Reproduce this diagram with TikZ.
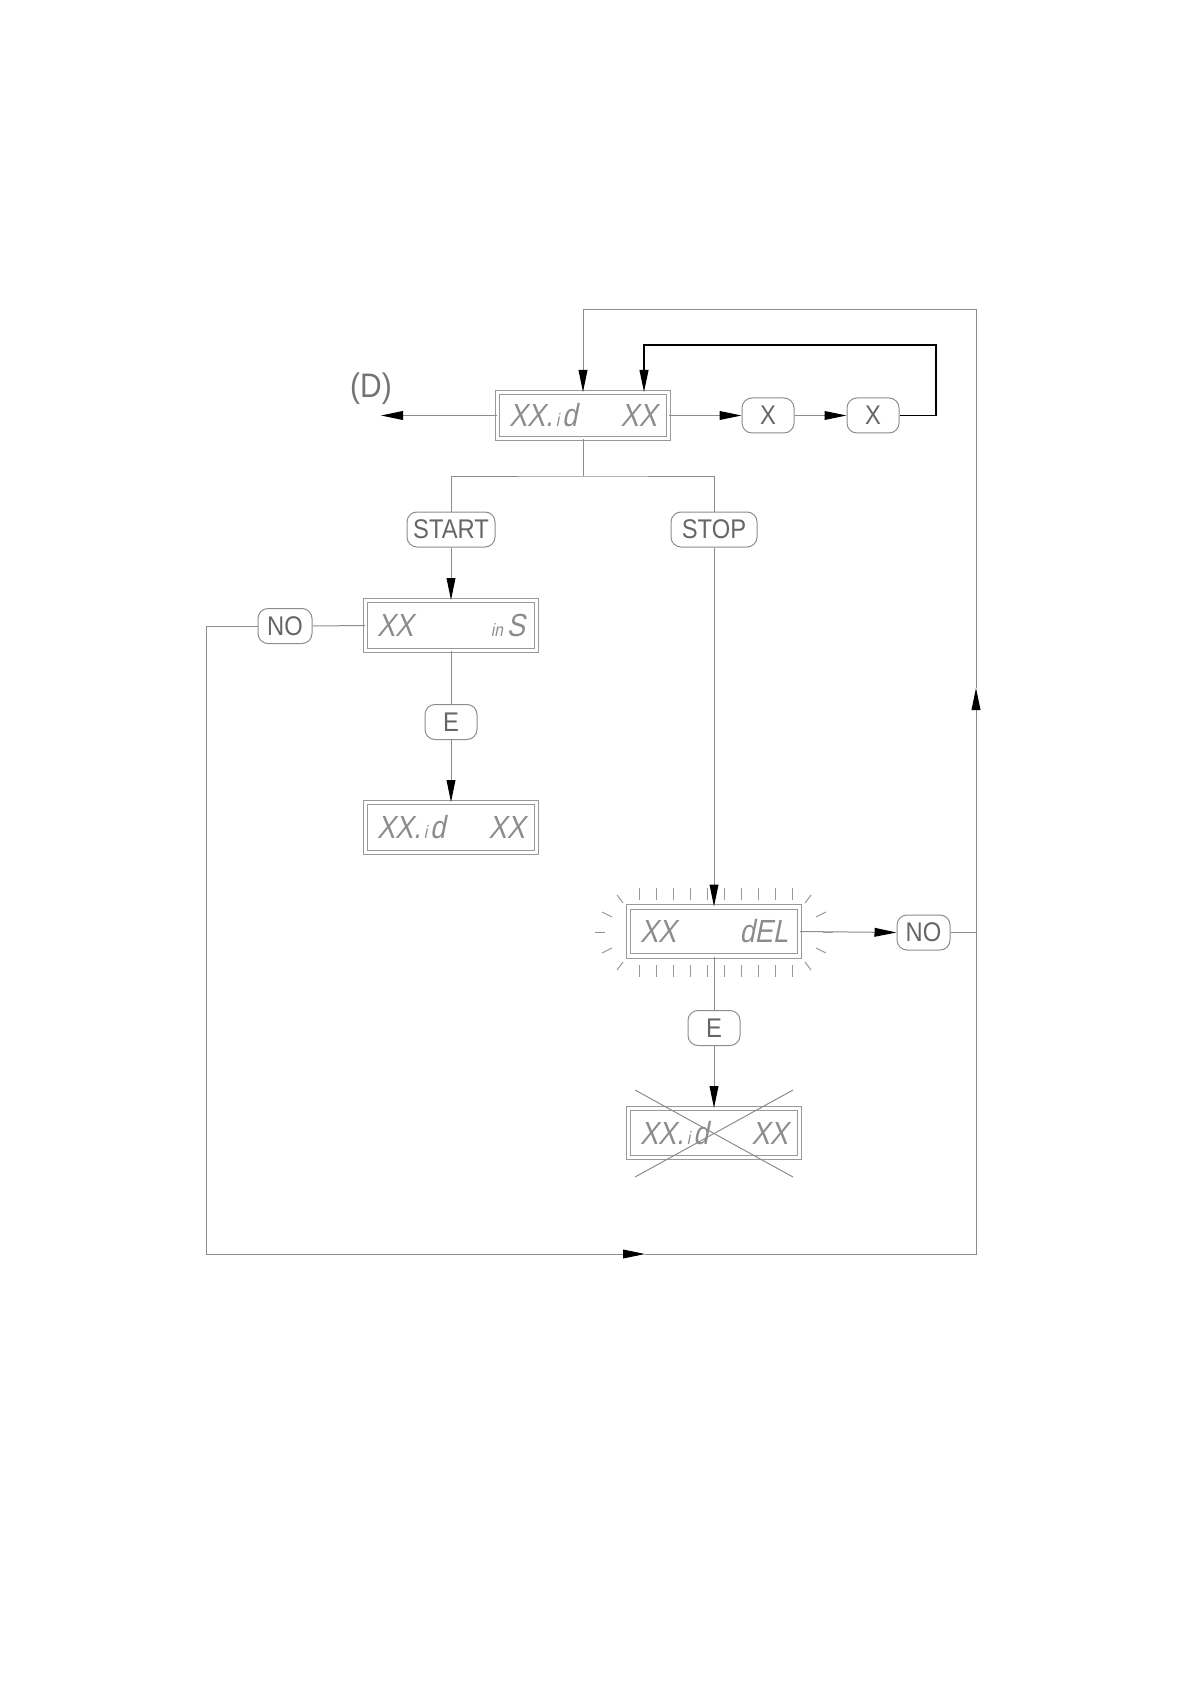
\documentclass[tikz,border=0pt]{standalone}
\usepackage{fontspec}
\setmainfont{Liberation Sans}
\newfontfamily\keyfont{Liberation Sans}[FakeStretch=0.88]
\newfontfamily\lcdfont{Liberation Sans}[FakeStretch=0.85,FakeSlant=0.2]
\usetikzlibrary{arrows.meta}

\tikzset{
  wire/.style={black!45,line width=0.5pt},
  arr/.style={wire,-{Triangle[length=11pt,width=4.4pt,color=black]}},
  loopline/.style={black,line width=0.7pt,-{Triangle[length=11pt,width=4.4pt]}},
  key/.style={draw=black!45,line width=0.5pt,rounded corners=5pt,minimum height=17.5pt,
    minimum width=26pt,inner xsep=2pt,font=\keyfont\fontsize{13.5}{13.5}\selectfont,text=black!60},
  lcd/.style={draw=black!40,line width=0.5pt,double=white,double distance=1.6pt,
    minimum width=85.5pt,minimum height=24.5pt,inner sep=0pt,
    font=\lcdfont\fontsize{16}{16}\selectfont,text=black!45},
  ray/.style={black!40,line width=0.5pt},
}
\newcommand{\lcdtext}[2]{\makebox[74pt]{#1\hfill#2}}
\newcommand{\lcdid}{XX.\kern1.5pt{\small i}\kern1.5pt d}

\begin{document}
\begin{tikzpicture}[x=0.5pt,y=-0.5pt]
\useasboundingbox (0,0) rectangle (1190,1684);
% display at the top and its keys
\node[lcd,minimum height=23pt] (top) at (583,415.5) {\lcdtext{\lcdid}{XX}};
\node[font=\keyfont\fontsize{17}{17}\selectfont,text=black!55] (dlab) at (371,389) {(D)};
\coordinate (dend) at (381,415.5);
\node[key] (x1) at (768,415.5) {X};
\node[key] (x2) at (873,415.5) {X};
\coordinate (loopc) at (936,345);
\coordinate (loopin) at (644,345);
\draw[arr] (top.west) -- (dend);
\draw[arr] (top.east) -- (x1.west);
\draw[arr] (x1.east) -- (x2.west);
\draw[loopline] (x2.east) -| (loopc) -- (loopin) -- (loopin |- top.north);
% start branch
\coordinate (split) at (583,476);
\node[key,minimum width=44pt] (start) at (451,529.5) {START};
\node[key,minimum width=43pt] (stop) at (714,529.5) {STOP};
\draw[wire] (top.south) -- (split);
\draw[wire] (start.north) |- (split) -| (stop.north);
\node[lcd,minimum height=25pt] (ins) at (451,625.5) {\lcdtext{XX}{{\small in}\kern2pt S}};
\node[key,minimum width=27pt] (nol) at (285,626) {NO};
\node[key] (e1) at (451,722) {E};
\node[lcd,minimum height=25pt] (id1) at (451,827.5) {\lcdtext{\lcdid}{XX}};
\draw[arr] (start.south) -- (ins.north);
\draw[wire] (ins.south) -- (e1.north);
\draw[arr] (e1.south) -- (id1.north);
\draw[wire] (ins.west) -- (nol.east);
% stop branch
\node[lcd] (del) at (714,931.5) {\lcdtext{XX}{dEL}};
\node[key,minimum width=26.5pt] (nor) at (923.5,932.5) {NO};
\node[key] (e2) at (714,1028) {E};
\node[lcd] (id2) at (714,1133) {\lcdtext{\lcdid}{XX}};
\draw[arr] (stop.south) -- (del.north);
\draw[arr] (del.east) -- (nor.west);
\draw[wire] (del.south) -- (e2.north);
\draw[arr] (e2.south) -- (id2.north);
% blinking marks
\foreach \x in {639,656,...,792} {
  \draw[ray] (\x,888) -- (\x,900);
  \draw[ray] (\x,965) -- (\x,977);
}
\foreach \s in {1,-1} {
  \draw[ray] (714-97*\s,895) -- (714-91*\s,903);
  \draw[ray] (714-112*\s,912) -- (714-102*\s,917);
  \draw[ray] (714-119*\s,932) -- (714-109*\s,932);
  \draw[ray] (714-112*\s,953) -- (714-102*\s,948);
  \draw[ray] (714-97*\s,970) -- (714-91*\s,962);
}
% deleted entry
\draw[wire] (635,1090) -- (793,1177);
\draw[wire] (635,1177) -- (793,1090);
% return loop
\coordinate (bl) at (206,1254);
\coordinate (bm) at (645,1254);
\coordinate (br) at (976,1254);
\coordinate (rm) at (976,688);
\coordinate (tr) at (976,310);
\draw[arr] (nol.west) -| (bl) -- (bm);
\draw[arr] (bm) -- (br) -- (rm);
\draw[arr] (rm) -- (tr) -| (top.north);
\draw[wire] (nor.east) -- (nor.east -| br);
\end{tikzpicture}
\end{document}
